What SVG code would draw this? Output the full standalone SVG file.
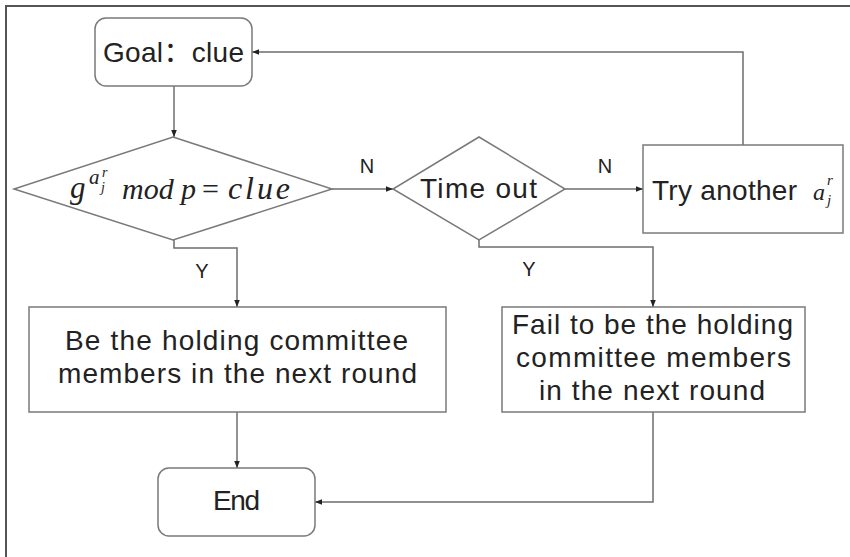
<svg xmlns="http://www.w3.org/2000/svg" width="850" height="557" viewBox="0 0 850 557">
<defs>
<marker id="ah" viewBox="0 0 10 10" refX="10" refY="5" markerWidth="7" markerHeight="7" orient="auto" markerUnits="userSpaceOnUse">
<path d="M0,1 L10,5 L0,9 z" fill="#222"/>
</marker>
<style>
.box{fill:#fff;stroke:#7a7a7a;stroke-width:1.5}
.con{fill:none;stroke:#6e6e6e;stroke-width:1.5}
.t{font-family:"Liberation Sans","Noto Sans CJK SC",sans-serif;fill:#222;text-anchor:middle;font-size:28px}
.lbl{font-family:"Liberation Sans",sans-serif;fill:#222;font-size:20px;text-anchor:middle}
.m{font-family:"Liberation Serif","DejaVu Serif",serif;font-style:italic;fill:#222}
</style>
</defs>
<rect x="0" y="0" width="850" height="557" fill="#fff"/>
<rect x="6" y="6" width="900" height="600" fill="none" stroke="#555" stroke-width="2"/>

<g id="connectors">
<path class="con" d="M174,86 V137" marker-end="url(#ah)"/>
<path class="con" d="M332,189 H393" marker-end="url(#ah)"/>
<path class="con" d="M565,189 H643" marker-end="url(#ah)"/>
<path class="con" d="M743,145 V52 H252" marker-end="url(#ah)"/>
<path class="con" d="M174,240 V248 H237 V307" marker-end="url(#ah)"/>
<path class="con" d="M479,240 V247 H653 V307" marker-end="url(#ah)"/>
<path class="con" d="M237,412 V468" marker-end="url(#ah)"/>
<path class="con" d="M653,412 V502 H315" marker-end="url(#ah)"/>
<text class="lbl" x="367" y="173">N</text>
<text class="lbl" x="605" y="173">N</text>
<text class="lbl" x="202" y="278">Y</text>
<text class="lbl" x="529" y="276">Y</text>
</g>

<g id="goal">
<rect class="box" x="95" y="18" width="157" height="68" rx="11"/>
<text class="t" x="173.5" y="62" textLength="141" lengthAdjust="spacing">Goal：clue</text>
</g>

<g id="check">
<polygon class="box" points="173,137 332,189 173,240 14,189"/>
<text class="m" x="70" y="198" font-size="31">g</text>
<text class="m" x="89" y="184" font-size="21">a</text>
<text class="m" x="102" y="177" font-size="14">r</text>
<text class="m" x="101" y="192" font-size="14">j</text>
<text class="m" x="122" y="199" font-size="30">mod</text>
<text class="m" x="181" y="199" font-size="30">p</text>
<text x="202" y="199" font-size="30" font-family="Liberation Serif,serif" fill="#222">=</text>
<text class="m" x="228" y="199" font-size="32" textLength="62" lengthAdjust="spacing">clue</text>
</g>

<g id="timeout">
<polygon class="box" points="479,137 565,189 479,240 393,189"/>
<text class="t" x="478.5" y="198" textLength="117" lengthAdjust="spacing">Time out</text>
</g>

<g id="try">
<rect class="box" x="643" y="145" width="200" height="88"/>
<text class="t" x="724.5" y="200" textLength="145" lengthAdjust="spacing">Try another</text>
<text class="m" x="813" y="200" font-size="24">a</text>
<text class="m" x="827" y="185" font-size="15">r</text>
<text class="m" x="827" y="205" font-size="15">j</text>
</g>

<g id="be">
<rect class="box" x="29" y="307" width="417" height="105"/>
<text class="t" x="236.5" y="350" textLength="343" lengthAdjust="spacing">Be the holding committee</text>
<text class="t" x="237.5" y="383" textLength="359" lengthAdjust="spacing">members in the next round</text>
</g>

<g id="fail">
<rect class="box" x="502" y="307" width="303" height="105"/>
<text class="t" x="652.5" y="334" textLength="281" lengthAdjust="spacing">Fail to be the holding</text>
<text class="t" x="653.5" y="367" textLength="275" lengthAdjust="spacing">committee members</text>
<text class="t" x="652" y="400" textLength="226" lengthAdjust="spacing">in the next round</text>
</g>

<g id="end">
<rect class="box" x="158" y="468" width="157" height="68" rx="11"/>
<text class="t" x="236.5" y="510" textLength="47" lengthAdjust="spacing">End</text>
</g>
</svg>
